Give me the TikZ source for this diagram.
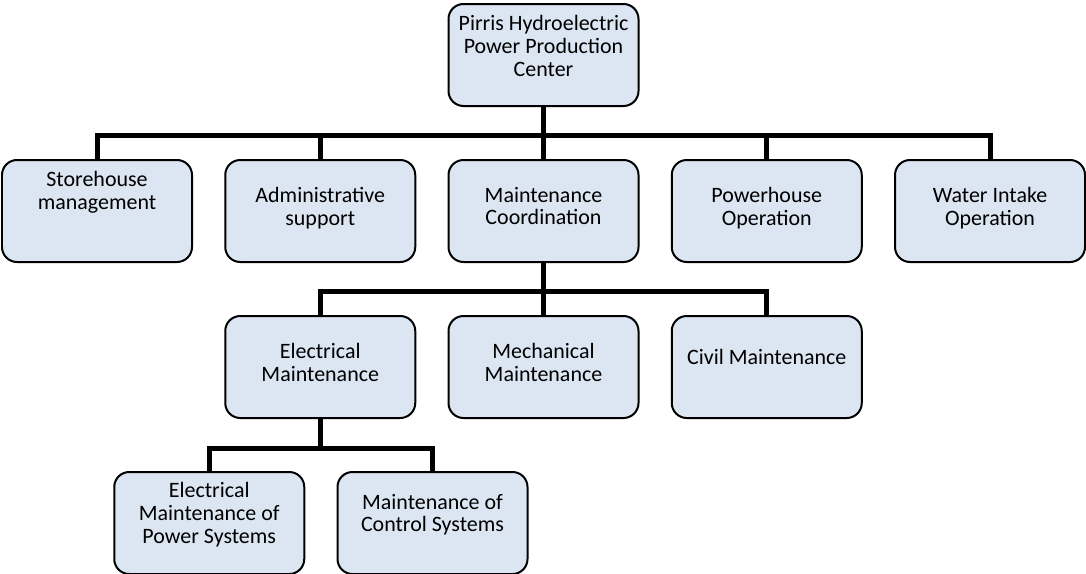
\documentclass[tikz,border=0pt]{standalone}
\usepackage{fontspec}
\setmainfont{Carlito}
\usepackage{xcolor}
\usepackage{tikz}
\usetikzlibrary{positioning}

\definecolor{boxfill}{RGB}{220,230,242}

\begin{document}
\begin{tikzpicture}[
      box/.style={draw, line width=0.04cm, rounded corners=0.3cm, fill=boxfill, minimum width=3.8cm, minimum height=2.04cm, align=center, inner ysep=2pt, text depth=0.2cm, font=\fontsize{12.5}{13}\selectfont},
      link/.style={line width=0.1cm},
    ]
    \useasboundingbox (0,0) rectangle (21.72,-11.46);

    \node[box, text depth=0.36cm] (plant) at (10.87,-1.10) {Pirris Hydroelectric\\Power Production\\Center};

    \node[box, below=1.04cm of plant] (maint_coord) {Maintenance\\Coordination};
    \node[box, left=0.625cm of maint_coord] (admin) {Administrative\\support};
    \node[box, left=0.625cm of admin, text depth=0.82cm] (store) {Storehouse\\management};
    \node[box, right=0.625cm of maint_coord] (power_op) {Powerhouse\\Operation};
    \node[box, right=0.625cm of power_op] (intake_op) {Water Intake\\Operation};

    \node[box, below=1.04cm of maint_coord] (mech_maint) {Mechanical\\Maintenance};
    \node[box, left=0.625cm of mech_maint] (elec_maint) {Electrical\\Maintenance};
    \node[box, right=0.625cm of mech_maint, text depth=0.4cm] (civil_maint) {Civil Maintenance};

    \node[box, below=1.04cm of elec_maint, xshift=-2.22cm, text depth=0.4cm] (elec_power) {Electrical\\Maintenance of\\Power Systems};
    \node[box, right=0.625cm of elec_power, text depth=0.4cm] (ctrl_sys) {Maintenance of\\Control Systems};

    \draw[link] (plant.south) -- ++(0,-0.56) -| (store.north);
    \draw[link] (plant.south) -- ++(0,-0.56) -| (admin.north);
    \draw[link] (plant.south) -- (maint_coord.north);
    \draw[link] (plant.south) -- ++(0,-0.56) -| (power_op.north);
    \draw[link] (plant.south) -- ++(0,-0.56) -| (intake_op.north);

    \draw[link] (maint_coord.south) -- ++(0,-0.56) -| (elec_maint.north);
    \draw[link] (maint_coord.south) -- (mech_maint.north);
    \draw[link] (maint_coord.south) -- ++(0,-0.56) -| (civil_maint.north);

    \draw[link] (elec_maint.south) -- ++(0,-0.58) -| (elec_power.north);
    \draw[link] (elec_maint.south) -- ++(0,-0.58) -| (ctrl_sys.north);
  \end{tikzpicture}
\end{document}
